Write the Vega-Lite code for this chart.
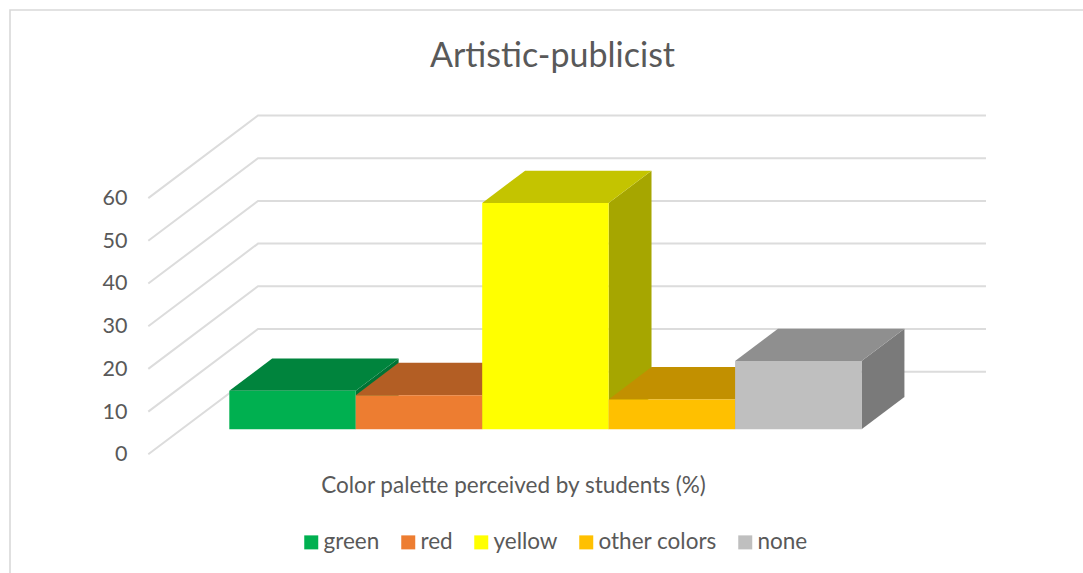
{
  "$schema": "https://vega.github.io/schema/vega-lite/v6.json",
  "width": 1073,
  "height": 563,
  "autosize": {"type": "none"},
  "padding": {"left": 10, "top": 10, "right": 0, "bottom": 0},
  "background": "white",
  "config": {
    "font": "Lato",
    "view": {"stroke": null}
  },
  "title": {
    "text": "Artistic-publicist",
    "fontSize": 34,
    "font": "Lato",
    "fontWeight": "normal",
    "color": "#595959",
    "anchor": "middle",
    "dx": 6,
    "offset": -67
  },
  "datasets": {
    "frame": [{"part": "border"}],
    "bars": [
      {"category": "green", "position": 0, "value": 9},
      {"category": "red", "position": 1, "value": 8},
      {"category": "yellow", "position": 2, "value": 53},
      {"category": "other colors", "position": 3, "value": 7},
      {"category": "none", "position": 4, "value": 16}
    ],
    "levels": [
      {"level": 0}, {"level": 10}, {"level": 20}, {"level": 30}, {"level": 40}, {"level": 50}, {"level": 60}
    ]
  },
  "encoding": {
    "x": {
      "field": "gx",
      "type": "quantitative",
      "scale": {"domain": [-1.7343, 6.7513], "nice": false, "zero": false},
      "axis": {
        "domain": false, "ticks": false, "labels": false, "grid": false,
        "title": "Color palette perceived by students (%)",
        "titleFont": "Lato", "titleFontSize": 22.5, "titleFontWeight": "normal", "titleColor": "#595959",
        "titleX": 503, "titleY": -88, "titleAlign": "center", "titleBaseline": "middle"
      }
    },
    "y": {
      "field": "gy",
      "type": "quantitative",
      "scale": {"domain": [-27.8, 104.05], "nice": false, "zero": false},
      "axis": {
        "values": [0, 10, 20, 30, 40, 50, 60],
        "domain": false, "ticks": false, "grid": false, "title": null,
        "offset": -117, "labelPadding": 0, "labelOffset": 0.5,
        "labelFont": "Lato", "labelFontSize": 21.5, "labelColor": "#595959"
      }
    }
  },
  "layer": [
    {
      "data": {"name": "frame"},
      "transform": [
        {"calculate": "[0, 1, 2]", "as": "v"},
        {"calculate": "[-1.7343, -1.7343, 6.7513]", "as": "gx"},
        {"calculate": "[-27.8, 104.05, 104.05]", "as": "gy"},
        {"flatten": ["v", "gx", "gy"]}
      ],
      "mark": {"type": "line", "stroke": "#d9d9d9", "strokeWidth": 1.6, "clip": false},
      "encoding": {"order": {"field": "v", "type": "quantitative"}}
    },
    {
      "data": {"name": "levels"},
      "transform": [
        {"calculate": "[0, 1, 2]", "as": "v"},
        {"calculate": "[-0.6406, 0.227, 5.984]", "as": "gx"},
        {"calculate": "[datum.level, datum.level + 19.34, datum.level + 19.34]", "as": "gy"},
        {"flatten": ["v", "gx", "gy"]}
      ],
      "mark": {"type": "line", "stroke": "#dcdcdc", "strokeWidth": 2},
      "encoding": {
        "detail": {"field": "level"},
        "order": {"field": "v", "type": "quantitative"}
      }
    },
    {
      "data": {"name": "bars"},
      "transform": [
        {"calculate": "[0, 1, 2, 3]", "as": "v"},
        {"calculate": "[datum.position + 1, datum.position + 1.339, datum.position + 1.339, datum.position + 1]", "as": "gx"},
        {"calculate": "[5.855, 13.415, 13.415 + datum.value, 5.855 + datum.value]", "as": "gy"},
        {"flatten": ["v", "gx", "gy"]}
      ],
      "mark": {"type": "line", "strokeWidth": 0},
      "encoding": {
        "fill": {
          "field": "category",
          "type": "nominal",
          "legend": null,
          "scale": {
            "domain": ["green", "red", "yellow", "other colors", "none"],
            "range": ["#007335", "#9a5220", "#a6a600", "#a67c00", "#7a7a7a"]
          }
        },
        "order": {"field": "v", "type": "quantitative"}
      }
    },
    {
      "data": {"name": "bars"},
      "transform": [
        {"calculate": "[0, 1, 2, 3]", "as": "v"},
        {"calculate": "[datum.position, datum.position + 0.339, datum.position + 1.339, datum.position + 1]", "as": "gx"},
        {"calculate": "[5.855 + datum.value, 13.415 + datum.value, 13.415 + datum.value, 5.855 + datum.value]", "as": "gy"},
        {"flatten": ["v", "gx", "gy"]}
      ],
      "mark": {"type": "line", "strokeWidth": 0},
      "encoding": {
        "fill": {
          "field": "category",
          "type": "nominal",
          "legend": null,
          "scale": {
            "domain": ["green", "red", "yellow", "other colors", "none"],
            "range": ["#00843d", "#b35e24", "#c4c400", "#c29000", "#8f8f8f"]
          }
        },
        "order": {"field": "v", "type": "quantitative"}
      }
    },
    {
      "data": {"name": "bars"},
      "transform": [
        {"calculate": "datum.position", "as": "gx"},
        {"calculate": "datum.position + 1", "as": "gx2"},
        {"calculate": "5.855", "as": "gy"},
        {"calculate": "5.855 + datum.value", "as": "gy2"}
      ],
      "mark": {"type": "rect"},
      "encoding": {
        "x2": {"field": "gx2"},
        "y2": {"field": "gy2"},
        "fill": {
          "field": "category",
          "type": "nominal",
          "scale": {
            "domain": ["green", "red", "yellow", "other colors", "none"],
            "range": ["#00b050", "#ed7d31", "#ffff00", "#ffc000", "#bfbfbf"]
          },
          "legend": {
            "orient": "none",
            "legendX": 290,
            "legendY": 521,
            "direction": "horizontal",
            "columns": 5,
            "title": null,
            "symbolType": "square",
            "symbolSize": 196,
            "symbolStrokeWidth": 0,
            "labelFont": "Lato",
            "labelFontSize": 22.5,
            "labelColor": "#595959",
            "labelOffset": 1,
            "columnPadding": 17
          }
        }
      }
    }
  ],
  "resolve": {"scale": {"fill": "independent"}}
}
